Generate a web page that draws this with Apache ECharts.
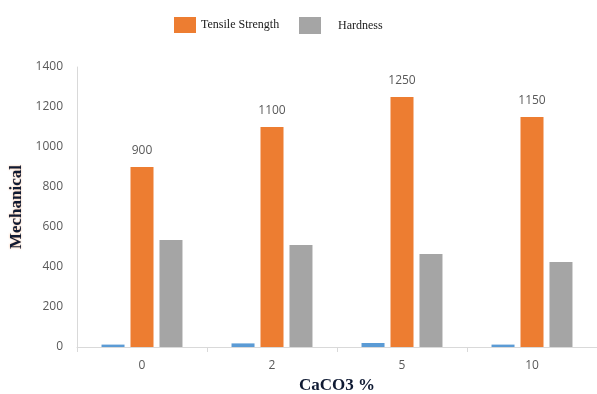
<!DOCTYPE html>
<html>
<head>
<meta charset="utf-8">
<script src="https://cdn.jsdelivr.net/npm/echarts@6/dist/echarts.min.js"></script>
<style>
  html, body { margin: 0; padding: 0; background: #fff; }
  #chart { width: 597px; height: 394px; }
</style>
</head>
<body>
<div id="chart"></div>
<script>
// CaCO3 content (%) on the x axis
const categories = ['0', '2', '5', '10'];
// Small baseline series (unlabelled in legend)
const baseValues = [12, 18, 20, 12];
// Tensile strength values
const tensileValues = [900, 1100, 1250, 1150];
// Hardness values
const hardnessValues = [535, 510, 465, 425];
// Y axis ticks
const yMin = 0, yMax = 1400, yStep = 200;

const chart = echarts.init(document.getElementById('chart'), null, { renderer: 'canvas' });

const tickFont = { color: '#595959', fontSize: 12, fontFamily: 'Open Sans, Liberation Sans, sans-serif' };
const legendFont = { color: '#1a1a1a', fontSize: 12, fontFamily: 'Liberation Serif, serif' };

chart.setOption({
  animation: false,
  backgroundColor: '#fff',
  grid: { left: 77, right: 0, top: 67, bottom: 47, containLabel: false, outerBoundsMode: 'none' },
  legend: [
    {
      data: ['Tensile Strength'],
      left: 174, top: 17, padding: 0,
      itemWidth: 22, itemHeight: 16, itemGap: 6,
      textStyle: Object.assign({}, legendFont),
      icon: 'rect'
    },
    {
      data: ['Hardness'],
      left: 299, top: 17, padding: 0,
      itemWidth: 22, itemHeight: 17,
      textStyle: Object.assign({}, legendFont, { padding: [6, 0, 0, 12] }),
      icon: 'rect'
    }
  ],
  xAxis: {
    type: 'category',
    data: categories,
    name: 'CaCO3 %',
    nameLocation: 'middle',
    nameGap: 28,
    nameTextStyle: { fontFamily: 'Liberation Serif, serif', fontWeight: 'bold', fontSize: 17, color: '#0f1a33' },
    axisLine: { lineStyle: { color: '#d9d9d9', width: 1 } },
    axisTick: { show: true, alignWithLabel: false, length: 5, lineStyle: { color: '#d9d9d9' } },
    axisLabel: Object.assign({}, tickFont, { margin: 13 })
  },
  yAxis: {
    type: 'value',
    min: yMin, max: yMax, interval: yStep,
    name: 'Mechanical',
    nameLocation: 'middle',
    nameGap: 51,
    nameTextStyle: {
      fontFamily: 'Liberation Serif, serif', fontWeight: 'bold', fontSize: 17, color: '#0f1a33',
      textShadowColor: 'rgba(237,125,49,0.6)', textShadowBlur: 2
    },
    axisLine: { show: true, lineStyle: { color: '#d9d9d9', width: 1 } },
    axisTick: { show: false },
    splitLine: { show: false },
    axisLabel: Object.assign({}, tickFont, { margin: 14, formatter: v => String(v) })
  },
  series: [
    {
      name: 'Base',
      type: 'bar',
      data: baseValues,
      barWidth: 23,
      barGap: '26%',
      itemStyle: { color: '#5b9bd5' }
    },
    {
      name: 'Tensile Strength',
      type: 'bar',
      data: tensileValues,
      barWidth: 23,
      barGap: '26%',
      itemStyle: { color: '#ed7d31' },
      label: { show: true, position: 'top', distance: 10, color: '#595959', fontSize: 12, fontFamily: 'Open Sans, Liberation Sans, sans-serif' }
    },
    {
      name: 'Hardness',
      type: 'bar',
      data: hardnessValues,
      barWidth: 23,
      barGap: '26%',
      itemStyle: { color: '#a5a5a5' }
    }
  ]
});
</script>
</body>
</html>
